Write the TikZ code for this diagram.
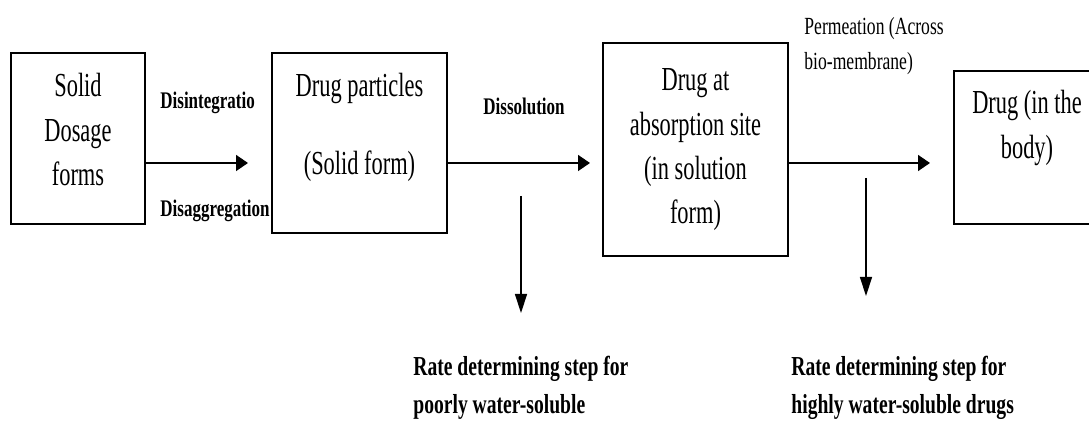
\documentclass[tikz,border=0pt]{standalone}
\usepackage{fontspec}
\setmainfont{Liberation Serif}
\usetikzlibrary{arrows.meta}

\begin{document}
\begin{tikzpicture}[x=0.5pt, y=-0.5pt,
    stage/.style={draw, line width=0.8pt, inner sep=0pt, outer sep=0pt},
    stagetext/.style={inner sep=0pt, anchor=north, align=center, yscale=1.5,
        font=\fontsize{11.2}{14.8}\selectfont},
    steplabel/.style={inner sep=0pt, anchor=base west, yscale=1.4,
        font=\bfseries\fontsize{8.5}{11}\selectfont},
    note/.style={inner sep=0pt, anchor=north west, align=left, yscale=1.4,
        font=\fontsize{8.8}{12.3}\selectfont},
    ratenote/.style={inner sep=0pt, anchor=north west, align=left, yscale=1.4,
        font=\bfseries\fontsize{9.8}{13.3}\selectfont},
    flow/.style={line width=0.8pt, -{Triangle[length=6pt, width=8pt]}},
    drop/.style={line width=0.7pt, -{Triangle[length=9.5pt, width=6pt]}}]
    \clip (0,0) rectangle (1089,422);
    % boxes
    \node[stage, minimum width=67pt, minimum height=85.5pt] (solid) at (78,138.5) {};
    \node[stage, minimum width=87.5pt, minimum height=90pt] (particles) at (359.5,143) {};
    \node[stage, minimum width=92.5pt, minimum height=106.5pt] (site) at (695.5,149.5) {};
    \node[stage, minimum width=73pt, minimum height=76.5pt] (body) at (1027,147.5) {};
    \node[stagetext] (solidtext) at ([yshift=-10pt]solid.north) {Solid\\Dosage\\forms};
    \node[stagetext] (particlestext) at ([yshift=-10pt]particles.north)
        {Drug particles\\[11pt](Solid form)};
    \node[stagetext] (sitetext) at ([yshift=-12.5pt]site.north)
        {Drug at\\absorption site\\(in solution\\form)};
    \node[stagetext] (bodytext) at ([yshift=-9.5pt]body.north) {Drug (in the\\body)};
    % labels
    \node[steplabel] (disint) at (160,109) {Disintegratio};
    \node[steplabel] (disagg) at (160,217) {Disaggregation};
    \node[steplabel] (dissol) at (483,115) {Dissolution};
    \node[note] (perm) at (804,17) {Permeation (Across\\bio-membrane)};
    \node[ratenote] (poorly) at (413,356) {Rate determining step for\\poorly water-soluble};
    \node[ratenote] (highly) at (791,356) {Rate determining step for\\highly water-soluble drugs};
    % arrows
    \coordinate (e1) at (248,163);
    \coordinate (e2) at (590,163);
    \coordinate (e3) at (930,163);
    \draw[flow] (solid.east |- e1) -- (e1);
    \draw[flow] (particles.east |- e2) -- (e2);
    \draw[flow] (site.east |- e3) -- (e3);
    \coordinate (d1top) at (521,196);
    \coordinate (d1tip) at (521,313);
    \coordinate (d2top) at (866,178);
    \coordinate (d2tip) at (866,296);
    \draw[drop] (d1top) -- (d1tip);
    \draw[drop] (d2top) -- (d2tip);
\end{tikzpicture}
\end{document}
